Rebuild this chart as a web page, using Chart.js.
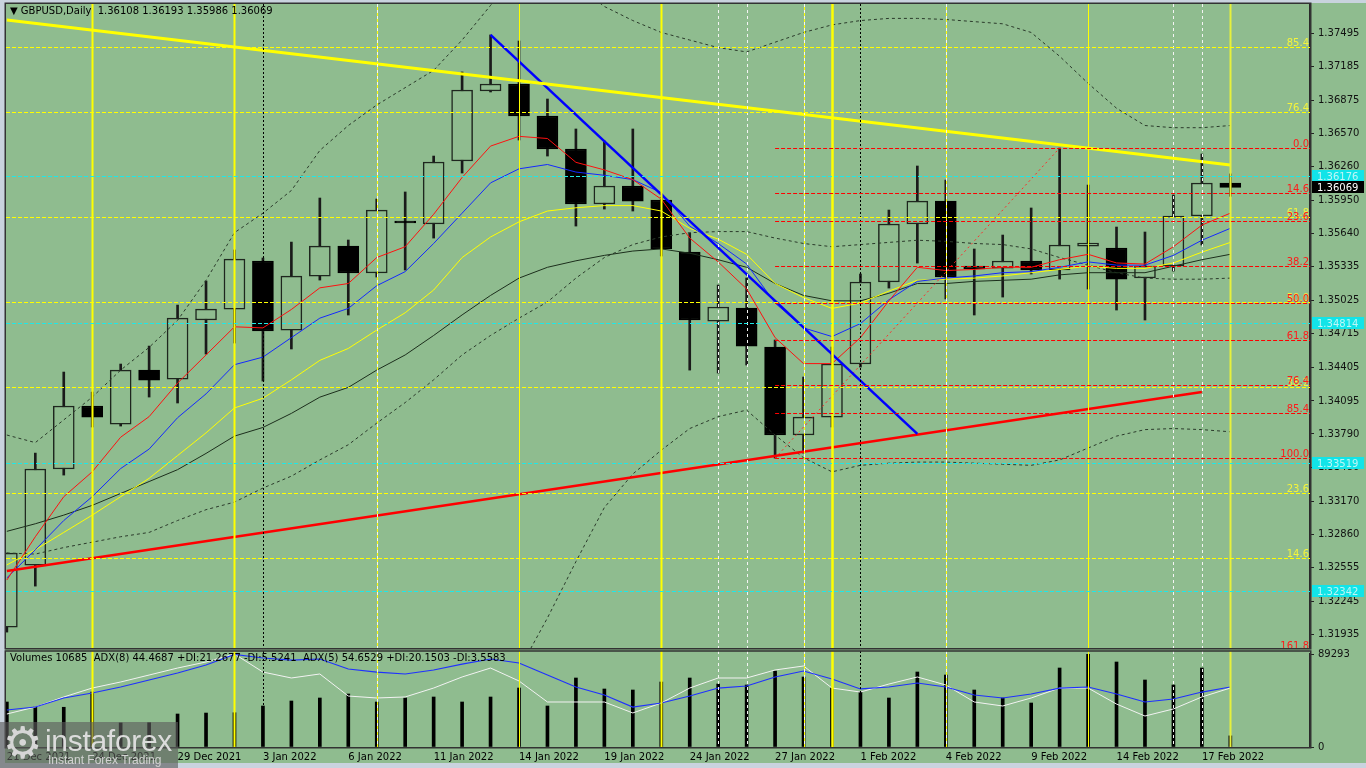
<!DOCTYPE html>
<html>
<head>
<meta charset="utf-8">
<script src="https://cdn.jsdelivr.net/npm/chart.js@4.4.1/dist/chart.umd.min.js"></script>
<style>
html, body { margin: 0; padding: 0; width: 1366px; height: 768px; overflow: hidden; background: #c9d3de; font-family: "DejaVu Sans", sans-serif; }
#bgfill { position: absolute; left: 5px; top: 3px; width: 1361px; height: 760px; background: #8fbc8f; }
#main { position: absolute; left: 0; top: 0; }
#vol  { position: absolute; left: 0; top: 640px; }
#hdr  { position: absolute; left: 10px; top: 5px; font-size: 10px; line-height: 12px; color: #000; white-space: pre; }
#ind  { position: absolute; left: 10px; top: 652px; font-size: 10px; line-height: 12px; color: #000; white-space: pre; }
#wm   { position: absolute; left: 0; top: 722px; width: 178px; height: 46px; background: rgba(92, 92, 92, 0.62); overflow: hidden; }
#gear { position: absolute; left: 3px; top: -1px; font: 44px/1 "DejaVu Sans"; color: #d6d6d6; }
#wmt  { position: absolute; left: 45px; top: 4px; font: 30px/1 "Liberation Sans"; color: #dcdcdc; letter-spacing: -0.3px; }
#wms  { position: absolute; left: 48px; top: 32px; font: 12px/1 "Liberation Sans"; color: #d2d2d2; }
</style>
</head>
<body>
<div id="bgfill"></div>
<canvas id="main" width="1366" height="650"></canvas>
<canvas id="vol" width="1366" height="128"></canvas>
<div id="hdr"></div>
<div id="ind"></div>
<div id="wm"><span id="gear">⚙</span><span id="wmt">instaforex</span><span id="wms">Instant Forex Trading</span></div>
<script>
// ---- data ----
const symbol = 'GBPUSD';
const period = 'Daily';

const dates = [
    '21 Dec 2021', '22 Dec 2021', '23 Dec 2021', '24 Dec 2021', '27 Dec 2021', '28 Dec 2021',
    '29 Dec 2021', '30 Dec 2021', '31 Dec 2021', '3 Jan 2022', '4 Jan 2022', '5 Jan 2022',
    '6 Jan 2022', '7 Jan 2022', '10 Jan 2022', '11 Jan 2022', '12 Jan 2022', '13 Jan 2022',
    '14 Jan 2022', '17 Jan 2022', '18 Jan 2022', '19 Jan 2022', '20 Jan 2022', '21 Jan 2022',
    '24 Jan 2022', '25 Jan 2022', '26 Jan 2022', '27 Jan 2022', '28 Jan 2022', '31 Jan 2022',
    '1 Feb 2022', '2 Feb 2022', '3 Feb 2022', '4 Feb 2022', '7 Feb 2022', '8 Feb 2022',
    '9 Feb 2022', '10 Feb 2022', '11 Feb 2022', '14 Feb 2022', '15 Feb 2022', '16 Feb 2022',
    '17 Feb 2022', '18 Feb 2022'
];
const dateTickBars = [0, 3, 6, 9, 12, 15, 18, 21, 24, 27, 30, 33, 36, 39, 42];

const opens  = [1.32005, 1.32578, 1.33466, 1.34048, 1.33881, 1.34380, 1.34297, 1.34843, 1.34944, 1.35388, 1.34750,
                1.35249, 1.35526, 1.35277, 1.35758, 1.35730, 1.36312, 1.36959, 1.37024, 1.36728, 1.36423, 1.35915,
                1.36081, 1.35952, 1.35471, 1.34833, 1.34953, 1.34593, 1.33780, 1.33946, 1.34436, 1.35194, 1.35730,
                1.35942, 1.35342, 1.35323, 1.35388, 1.35305, 1.35526, 1.35508, 1.35231, 1.35342, 1.35804, 1.36108];
const highs  = [1.32689, 1.33613, 1.34362, 1.34177, 1.34436, 1.34602, 1.34981, 1.35203, 1.35490, 1.35416, 1.35563,
                1.35970, 1.35582, 1.35961, 1.36026, 1.36358, 1.37135, 1.37477, 1.37421, 1.36885, 1.36608, 1.36497,
                1.36608, 1.35979, 1.35647, 1.35166, 1.35231, 1.34658, 1.34316, 1.34593, 1.35268, 1.35859, 1.36266,
                1.36136, 1.35499, 1.35628, 1.35878, 1.36432, 1.36090, 1.35702, 1.35656, 1.35998, 1.36377, 1.36193];
const lows   = [1.31959, 1.32384, 1.33410, 1.33854, 1.33863, 1.34131, 1.34076, 1.34528, 1.34630, 1.34279, 1.34575,
                1.35212, 1.34889, 1.35240, 1.35305, 1.35600, 1.36201, 1.36950, 1.36506, 1.36358, 1.35711, 1.35868,
                1.35850, 1.35434, 1.34380, 1.34353, 1.34427, 1.33567, 1.33613, 1.33854, 1.34408, 1.35138, 1.35369,
                1.35037, 1.34889, 1.35055, 1.35268, 1.35221, 1.35129, 1.34935, 1.34843, 1.35295, 1.35536, 1.35986];
const closes = [1.32689, 1.33466, 1.34048, 1.33946, 1.34380, 1.34288, 1.34861, 1.34944, 1.35406, 1.34741, 1.35249,
                1.35526, 1.35277, 1.35859, 1.35739, 1.36303, 1.36968, 1.37024, 1.36728, 1.36423, 1.35915, 1.36081,
                1.35942, 1.35499, 1.34843, 1.34963, 1.34602, 1.33780, 1.33946, 1.34436, 1.35194, 1.35730, 1.35942,
                1.35240, 1.35314, 1.35388, 1.35305, 1.35536, 1.35554, 1.35221, 1.35342, 1.35804, 1.36109, 1.36069];

const maRed    = [1.3244, 1.3284, 1.3321, 1.3344, 1.3376, 1.3395, 1.3426, 1.3452, 1.3478, 1.3477, 1.3494, 1.3514, 1.3518, 1.3542, 1.3552,
                  1.3582, 1.3616, 1.3645, 1.3654, 1.3652, 1.3630, 1.3623, 1.3614, 1.3596, 1.3560, 1.3538, 1.3513, 1.3468, 1.3444, 1.3444,
                  1.3468, 1.3502, 1.3533, 1.3530, 1.3531, 1.3533, 1.3533, 1.3540, 1.3545, 1.3537, 1.3536, 1.3552, 1.3572, 1.3583];
const maBlue   = [1.3246, 1.3272, 1.3299, 1.3321, 1.3347, 1.3365, 1.3394, 1.3416, 1.3443, 1.3450, 1.3468, 1.3486, 1.3495, 1.3516, 1.3529,
                  1.3555, 1.3583, 1.3611, 1.3624, 1.3628, 1.3621, 1.3618, 1.3614, 1.3602, 1.3571, 1.3555, 1.3536, 1.3500, 1.3477, 1.3469,
                  1.3481, 1.3503, 1.3520, 1.3523, 1.3525, 1.3528, 1.3529, 1.3533, 1.3538, 1.3535, 1.3535, 1.3544, 1.3558, 1.3569];
const maYellow = [1.3258, 1.3272, 1.3288, 1.3304, 1.3321, 1.3338, 1.3359, 1.3380, 1.3403, 1.3412, 1.3429, 1.3447, 1.3458, 1.3475, 1.3491,
                  1.3512, 1.3542, 1.3561, 1.3575, 1.3585, 1.3588, 1.3590, 1.3590, 1.3585, 1.3569, 1.3559, 1.3545, 1.3518, 1.3505, 1.3495,
                  1.3500, 1.3511, 1.3521, 1.3522, 1.3523, 1.3525, 1.3528, 1.3531, 1.3534, 1.3532, 1.3532, 1.3537, 1.3547, 1.3556];
const maDark   = [1.3289, 1.3296, 1.3304, 1.3313, 1.3324, 1.3335, 1.3346, 1.3361, 1.3377, 1.3385, 1.3398, 1.3413, 1.3422, 1.3438, 1.3452,
                  1.3470, 1.3489, 1.3507, 1.3523, 1.3533, 1.3539, 1.3544, 1.3548, 1.3550, 1.3546, 1.3540, 1.3533, 1.3518, 1.3507, 1.3502,
                  1.3502, 1.3509, 1.3518, 1.3518, 1.3520, 1.3521, 1.3522, 1.3526, 1.3528, 1.3528, 1.3528, 1.3534, 1.3540, 1.3545];

const bbUpper  = [1.3378, 1.3371, 1.3392, 1.3413, 1.3438, 1.3459, 1.3484, 1.3521, 1.3565, 1.3583, 1.3604, 1.3641, 1.3664, 1.3683, 1.3699,
                  1.3715, 1.3743, 1.3775, 1.3808, 1.3808, 1.3794, 1.3774, 1.3761, 1.3750, 1.3743, 1.3736, 1.3732, 1.3741, 1.3750, 1.3757,
                  1.3761, 1.3763, 1.3763, 1.3762, 1.3760, 1.3758, 1.3750, 1.3728, 1.3703, 1.3680, 1.3664, 1.3662, 1.3662, 1.3664];
const bbMiddle = [1.3269, 1.3268, 1.3274, 1.3279, 1.3284, 1.3288, 1.3299, 1.3309, 1.3316, 1.3329, 1.3340, 1.3355, 1.3369, 1.3389, 1.3408,
                  1.3429, 1.3452, 1.3470, 1.3486, 1.3501, 1.3523, 1.3542, 1.3554, 1.3561, 1.3565, 1.3566, 1.3566, 1.3560, 1.3555, 1.3552,
                  1.3554, 1.3556, 1.3558, 1.3557, 1.3555, 1.3554, 1.3550, 1.3542, 1.3535, 1.3528, 1.3523, 1.3522, 1.3522, 1.3523];
const bbLower  = [1.3160, 1.3165, 1.3157, 1.3145, 1.3129, 1.3117, 1.3115, 1.3096, 1.3067, 1.3075, 1.3076, 1.3068, 1.3073, 1.3095, 1.3110,
                  1.3119, 1.3129, 1.3138, 1.3161, 1.3209, 1.3261, 1.3311, 1.3342, 1.3364, 1.3384, 1.3395, 1.3401, 1.3378, 1.3357, 1.3344,
                  1.3350, 1.3352, 1.3353, 1.3353, 1.3352, 1.3351, 1.3350, 1.3355, 1.3366, 1.3377, 1.3383, 1.3384, 1.3383, 1.3381];

const volumes = [43205, 38400, 38150, 52806, 23100, 23300, 31684, 32600, 32900, 39365, 44166, 47046, 50886, 43205, 47046,
                 48006, 43205, 48006, 56647, 39365, 66248, 55687, 54727, 62408, 66248, 60488, 59527, 72969, 67209, 56647,
                 52806, 47046, 72009, 69128, 54727, 47046, 42245, 75849, 89293, 81610, 64328, 59527, 75849, 10685];
const adxMain  = [39.8, 43.0, 52.7, 58.1, 64.5, 72.0, 79.6, 88.2, 99.5, 95.7, 93.5, 94.6, 83.9, 80.6, 78.5, 82.8, 89.2, 94.6, 90.3, 77.4,
                  64.5, 55.9, 43.0, 47.3, 54.8, 63.4, 65.6, 75.3, 81.7, 73.1, 62.4, 64.5, 68.8, 64.5, 55.9, 52.7, 57.0, 63.4, 64.5, 57.0,
                  48.4, 51.6, 59.1, 64.5];
const adxFast  = [35.5, 43.0, 53.8, 63.4, 69.9, 77.4, 84.9, 91.4, 100, 80.6, 74.2, 78.5, 54.8, 52.7, 53.8, 63.4, 75.3, 84.9, 71.0, 48.4,
                  48.4, 48.4, 36.6, 47.3, 63.4, 74.2, 74.2, 82.8, 87.1, 63.4, 59.1, 67.7, 75.3, 66.7, 48.4, 44.1, 52.7, 63.4, 63.4, 46.2,
                  33.3, 40.9, 53.8, 63.4];
const adxText = 'ADX(8) 44.4687 +DI:21.2677 -DI:5.5241  ADX(5) 54.6529 +DI:20.1503 -DI:3.5583';

const priceTicks = [1.37495, 1.37185, 1.36875, 1.36570, 1.36260, 1.35950, 1.35640, 1.35335, 1.35025, 1.34715,
                    1.34405, 1.34095, 1.33790, 1.33480, 1.33170, 1.32860, 1.32555, 1.32245, 1.31935];
const cyanLevels = [1.36176, 1.34814, 1.33519, 1.32342];

const fibYellowLevels = [0, 14.6, 23.6, 38.2, 50, 61.8, 76.4, 85.4, 100];
const fibYellowLow  = 1.31672;
const fibYellowHigh = 1.38343;
const fibRedLevels = [0, 14.6, 23.6, 38.2, 50, 61.8, 76.4, 85.4, 100, 161.8];
const fibRedHigh = 1.36432;   // 10 Feb high
const fibRedLow  = 1.33567;   // 27 Jan low
const fibRedFromBar = 27;
const fibRedToBar   = 37;

const trendYellow = [{ x: 0, y: 1.37615 }, { x: 43, y: 1.36275 }];
const trendBlue   = [{ x: 17, y: 1.37477 }, { x: 32, y: 1.33790 }];
const trendRed    = [{ x: 0, y: 1.32524 }, { x: 42, y: 1.34177 }];

const markerBars  = [3, 8, 9, 13, 18, 23, 25, 26, 28, 29, 30, 33, 38, 41, 42, 43];
const markerKinds = ['y2', 'y2', 'dot', 'yw', 'y1', 'y2', 'w', 'w', 'yw', 'y3', 'dot', 'yw', 'y1', 'w', 'w', 'last'];

// ---- view ----
const X_MIN = -0.03, X_MAX = 45.8;
const PRICE_MIN = 1.31812, PRICE_MAX = 1.37763;
const BG = '#8fbc8f';
const FONT = { family: 'DejaVu Sans', size: 10 };

Chart.defaults.font.family = 'DejaVu Sans';

const last = closes.length - 1;
document.getElementById('hdr').textContent =
    '\u25BC ' + symbol + ',' + period + '  ' +
    [opens[last], highs[last], lows[last], closes[last]].map(v => v.toFixed(5)).join(' ');
document.getElementById('ind').textContent = 'Volumes ' + volumes[last] + '  ' + adxText;

const series = arr => arr.map((v, i) => ({ x: i, y: v }));

function lineSet(data, color, width, dash, order, axis = 'y') {
    return {
        type: 'line', data, borderColor: color, borderWidth: width, borderDash: dash || [],
        pointRadius: 0, tension: 0, fill: false, clip: 0, order, yAxisID: axis
    };
}

// axes must not pad the plot for their outer labels
function noPad(s) {
    s.paddingTop = 0;
    s.paddingBottom = 0;
    s.paddingLeft = 0;
    s.paddingRight = 0;
}

function hline(ctx, x0, x1, py) {
    const yy = Math.round(py) + 0.5;
    ctx.beginPath();
    ctx.moveTo(x0, yy);
    ctx.lineTo(x1, yy);
    ctx.stroke();
}

function vline(ctx, px, a, color, width, dash) {
    ctx.save();
    ctx.strokeStyle = color;
    ctx.lineWidth = width;
    ctx.setLineDash(dash);
    ctx.beginPath();
    ctx.moveTo(px, a.top);
    ctx.lineTo(px, a.bottom);
    ctx.stroke();
    ctx.restore();
}

function drawMarkers(ctx, xScale, a) {
    markerBars.forEach((bar, k) => {
        const px = Math.round(xScale.getPixelForValue(bar)) + 0.5;
        switch (markerKinds[k]) {
            case 'y1':   vline(ctx, px, a, '#ffff00', 1, []); break;
            case 'y2':   vline(ctx, px, a, '#ffff00', 2, []); break;
            case 'y3':   vline(ctx, px, a, '#ffff00', 2.5, []); break;
            case 'yw':   vline(ctx, px, a, '#ffff00', 1, []); vline(ctx, px, a, '#f4f4f4', 1, [3, 3]); break;
            case 'w':    vline(ctx, px, a, '#f4f4f4', 1, [3, 3]); break;
            case 'dot':  vline(ctx, px, a, '#000000', 1, [2, 2]); break;
            case 'last': vline(ctx, px, a, '#e6f03c', 2, []); break;
        }
    });
}

function drawFrame(ctx, a, topGap) {
    ctx.save();
    ctx.strokeStyle = '#333';
    ctx.lineWidth = 1.5;
    ctx.strokeRect(a.left - 0.75, a.top - topGap, a.right - a.left + 1.5, a.bottom - a.top + topGap + 0.75);
    ctx.restore();
}

const mainObjects = {
    id: 'mainObjects',
    afterDatasetsDraw(chart) {
        const { ctx, chartArea: a, scales: { x, y } } = chart;
        ctx.save();
        ctx.beginPath();
        ctx.rect(a.left, a.top, a.right - a.left, a.bottom - a.top);
        ctx.clip();

        drawMarkers(ctx, x, a);

        ctx.lineWidth = 1;
        ctx.setLineDash([4, 2]);
        ctx.strokeStyle = '#1ee8e8';
        cyanLevels.forEach(p => hline(ctx, a.left, a.right, y.getPixelForValue(p)));

        const yellowPrice = l => fibYellowLow + (fibYellowHigh - fibYellowLow) * l / 100;
        const redPrice = l => fibRedHigh - (fibRedHigh - fibRedLow) * l / 100;

        ctx.strokeStyle = '#ffff00';
        fibYellowLevels.forEach(l => hline(ctx, a.left, a.right, y.getPixelForValue(yellowPrice(l))));
        ctx.strokeStyle = '#ff0000';
        const rx = x.getPixelForValue(fibRedFromBar);
        fibRedLevels.forEach(l => hline(ctx, rx, a.right, y.getPixelForValue(redPrice(l))));
        ctx.setLineDash([]);

        ctx.font = '10px "DejaVu Sans"';
        ctx.textAlign = 'right';
        ctx.textBaseline = 'alphabetic';
        ctx.fillStyle = '#f4f43c';
        fibYellowLevels.forEach(l => ctx.fillText(l.toFixed(1), a.right - 1, Math.round(y.getPixelForValue(yellowPrice(l))) - 1));
        ctx.fillStyle = '#ff1a1a';
        fibRedLevels.forEach(l => ctx.fillText(l.toFixed(1), a.right - 1, Math.round(y.getPixelForValue(redPrice(l))) - 1));
        ctx.restore();

        drawFrame(ctx, a, 0.75);

        // price tags on the axis
        ctx.save();
        ctx.font = '10px "DejaVu Sans"';
        ctx.textAlign = 'left';
        ctx.textBaseline = 'middle';
        cyanLevels.forEach(p => {
            const py = Math.round(y.getPixelForValue(p));
            ctx.fillStyle = '#12e4e8';
            ctx.fillRect(a.right + 2, py - 6, 52, 12);
            ctx.fillStyle = '#bdf6f6';
            ctx.fillText(p.toFixed(5), a.right + 7, py + 1);
        });
        const cy = Math.round(y.getPixelForValue(closes[last]));
        ctx.fillStyle = '#000';
        ctx.fillRect(a.right + 2, cy - 6, 52, 12);
        ctx.fillStyle = '#fff';
        ctx.fillText(closes[last].toFixed(5), a.right + 7, cy + 1);
        ctx.restore();
    }
};

const volObjects = {
    id: 'volObjects',
    afterDatasetsDraw(chart) {
        const { ctx, chartArea: a, scales: { x } } = chart;
        ctx.save();
        ctx.beginPath();
        ctx.rect(a.left, a.top - 3, a.right - a.left, a.bottom - a.top + 3);
        ctx.clip();
        drawMarkers(ctx, x, { top: a.top - 3, bottom: a.bottom });
        ctx.restore();
        drawFrame(ctx, a, 3);
    }
};

const bodyColors = opens.map((o, i) => closes[i] >= o ? BG : '#000');
const bodyBorders = opens.map((o, i) => closes[i] >= o ? '#1e261e' : '#000');

new Chart(document.getElementById('main'), {
    type: 'bar',
    data: {
        datasets: [
            lineSet(trendYellow, '#ffff00', 3, null, 1),
            lineSet(trendBlue, '#0000ff', 2.5, null, 2),
            lineSet(trendRed, '#ff0000', 2.5, null, 3),
            lineSet([{ x: fibRedFromBar, y: fibRedLow }, { x: fibRedToBar, y: fibRedHigh }], '#ff2a2a', 1, [2, 3], 4),
            lineSet(series(maRed), '#ff1010', 1, null, 10),
            lineSet(series(maBlue), '#1428ff', 1, null, 11),
            lineSet(series(maYellow), '#ffff00', 1, null, 12),
            lineSet(series(maDark), '#1c2e1c', 1, null, 13),
            lineSet(series(bbUpper), '#2b3a2b', 1, [3, 3], 14),
            lineSet(series(bbMiddle), '#2b3a2b', 1, [3, 3], 15),
            lineSet(series(bbLower), '#2b3a2b', 1, [3, 3], 16),
            {
                type: 'bar', data: opens.map((o, i) => ({ x: i, y: [o, closes[i]] })),
                backgroundColor: bodyColors, borderColor: bodyBorders, borderWidth: 1.5,
                borderSkipped: false, barThickness: 21, grouped: false, clip: 0, order: 50
            },
            {
                type: 'bar', data: lows.map((l, i) => ({ x: i, y: [l, highs[i]] })),
                backgroundColor: '#1a1a1a', borderWidth: 0, barThickness: 2,
                grouped: false, clip: 0, order: 60
            }
        ]
    },
    options: {
        responsive: false, animation: false, events: [], devicePixelRatio: 1,
        layout: { padding: { left: 6, top: 4, bottom: 2, right: 0 } },
        plugins: { legend: { display: false }, tooltip: { enabled: false } },
        scales: {
            x: { type: 'linear', min: X_MIN, max: X_MAX, offset: false, display: false, grid: { offset: false } },
            y: {
                type: 'linear', position: 'right', min: PRICE_MIN, max: PRICE_MAX, beginAtZero: false,
                afterBuildTicks: s => { s.ticks = priceTicks.map(v => ({ value: v })); },
                afterFit: s => { s.width = 56; noPad(s); },
                ticks: { autoSkip: false, color: '#111', font: FONT, padding: 4, callback: v => Number(v).toFixed(5) },
                grid: { drawOnChartArea: false, drawTicks: true, tickLength: 4, tickColor: '#222' },
                border: { display: true, color: '#2a2a2a', width: 1.5 }
            }
        }
    },
    plugins: [mainObjects]
});

const VOL_MAX = Math.max(...volumes);

new Chart(document.getElementById('vol'), {
    type: 'bar',
    data: {
        datasets: [
            lineSet(series(adxMain), '#1f30ff', 1.2, null, 1, 'yA'),
            lineSet(series(adxFast), '#f2f2f2', 1, null, 2, 'yA'),
            {
                type: 'bar', data: series(volumes), backgroundColor: '#000', borderWidth: 0,
                barThickness: 3, grouped: false, clip: 0, order: 10, yAxisID: 'y'
            }
        ]
    },
    options: {
        responsive: false, animation: false, events: [], devicePixelRatio: 1,
        layout: { padding: { left: 6, top: 14, bottom: 0, right: 0 } },
        plugins: { legend: { display: false }, tooltip: { enabled: false } },
        scales: {
            x: {
                type: 'linear', position: 'bottom', min: X_MIN, max: X_MAX, offset: false,
                afterBuildTicks: s => { s.ticks = dateTickBars.map(v => ({ value: v })); },
                afterFit: s => { s.height = 21; noPad(s); },
                ticks: { autoSkip: false, maxRotation: 0, minRotation: 0, align: 'start', color: '#000', font: FONT, padding: 4,
                         callback: v => dates[v] },
                grid: { display: false, drawTicks: false, offset: false },
                border: { display: false }
            },
            y: {
                type: 'linear', position: 'right', min: 0, max: VOL_MAX,
                afterBuildTicks: s => { s.ticks = [{ value: 0 }, { value: VOL_MAX }]; },
                afterFit: s => { s.width = 56; noPad(s); },
                ticks: { autoSkip: false, color: '#111', font: FONT, padding: 4 , callback: v => String(v) },
                grid: { drawOnChartArea: false, drawTicks: true, tickLength: 4, tickColor: '#222' },
                border: { display: true, color: '#2a2a2a', width: 1.5 }
            },
            yA: { type: 'linear', display: false, min: 0, max: 100 }
        }
    },
    plugins: [volObjects]
});
</script>
</body>
</html>
